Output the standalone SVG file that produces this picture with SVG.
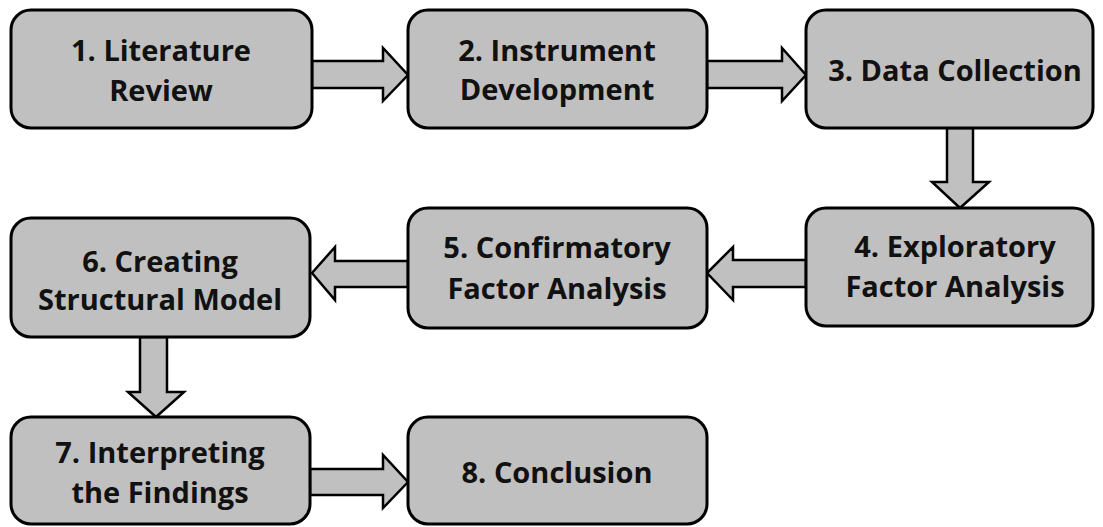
<svg xmlns="http://www.w3.org/2000/svg" width="1103" height="527" viewBox="0 0 1103 527">
<style>
.box{fill:#c0c0c0;stroke:#000;stroke-width:3}
.arr{fill:#c0c0c0;stroke:#000;stroke-width:2.5;stroke-linejoin:miter}
text{font-family:"Open Sans","Liberation Sans",sans-serif;font-weight:bold;font-size:29px;fill:#111;text-anchor:middle}
</style>
<rect width="1103" height="527" fill="#fff"/>
<g id="connectors">
<polygon class="arr" points="312,61 383,61 383,48 408,75 383,101 383,88 312,88"/>
<polygon class="arr" points="707,61 782,61 782,48 806,75 782,101 782,88 707,88"/>
<polygon class="arr" points="947,128 973,128 973,182 989,182 960,208 932,182 947,182"/>
<polygon class="arr" points="806,260 733,260 733,247 707,273 733,300 733,287 806,287"/>
<polygon class="arr" points="408,261 335,261 335,247 312,273 335,300 335,287 408,287"/>
<polygon class="arr" points="140,337 167,337 167,392 184,392 156,417 128,392 140,392"/>
<polygon class="arr" points="310,469 383,469 383,455 408,482 383,508 383,495 310,495"/>
</g>
<g id="n1"><rect class="box" x="11" y="10" width="301" height="118" rx="20"/><text x="161" y="61">1. Literature</text><text x="161" y="101">Review</text></g>
<g id="n2"><rect class="box" x="408" y="10" width="299" height="118" rx="20"/><text x="557" y="61">2. Instrument</text><text x="557" y="100">Development</text></g>
<g id="n3"><rect class="box" x="806" y="10" width="287" height="118" rx="20"/><text x="955" y="81">3. Data Collection</text></g>
<g id="n4"><rect class="box" x="806" y="208" width="287" height="118" rx="20"/><text x="955" y="257">4. Exploratory</text><text x="955" y="297">Factor Analysis</text></g>
<g id="n5"><rect class="box" x="408" y="208" width="299" height="120" rx="20"/><text x="557" y="258">5. Confirmatory</text><text x="557" y="299">Factor Analysis</text></g>
<g id="n6"><rect class="box" x="11" y="218" width="299" height="119" rx="20"/><text x="160" y="272">6. Creating</text><text x="160" y="310">Structural Model</text></g>
<g id="n7"><rect class="box" x="11" y="417" width="299" height="107" rx="20"/><text x="160" y="463">7. Interpreting</text><text x="160" y="503">the Findings</text></g>
<g id="n8"><rect class="box" x="408" y="417" width="299" height="107" rx="20"/><text x="557" y="483">8. Conclusion</text></g>
</svg>
